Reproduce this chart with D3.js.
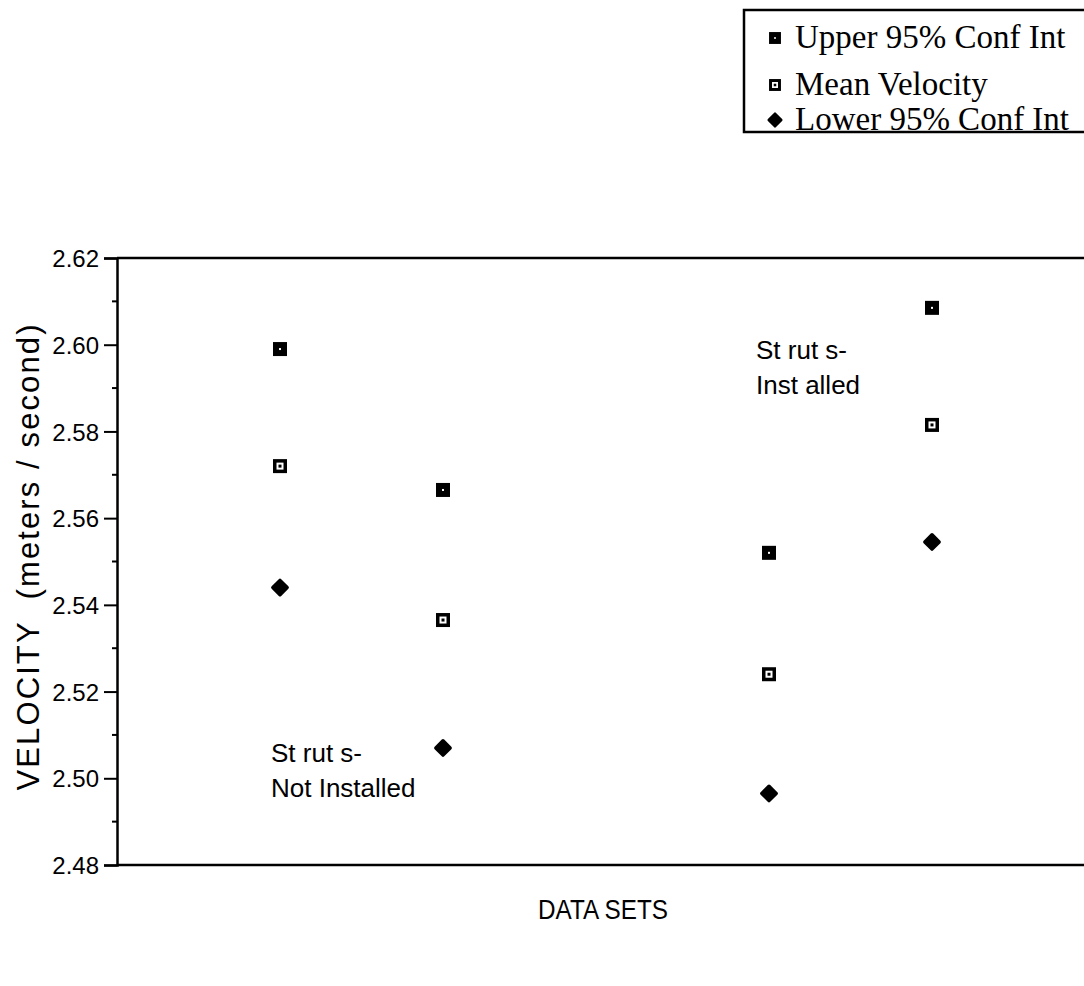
<!DOCTYPE html>
<html>
<head>
<meta charset="utf-8">
<script src="https://cdn.jsdelivr.net/npm/d3@7"></script>
<style>
  body { margin: 0; background: #fff; }
  text { font-family: "Liberation Sans", Arial, sans-serif; fill: #000; }
  .legendText { font-family: "Liberation Serif", "Times New Roman", serif; font-size: 33px; }
</style>
</head>
<body>
<script>
//data
var groups = [1, 2, 4, 5];
var upper = [2.599, 2.5665, 2.552, 2.6085];
var mean = [2.572, 2.5365, 2.524, 2.5815];
var lower = [2.544, 2.507, 2.4965, 2.5545];
var majorTicks = [2.48, 2.50, 2.52, 2.54, 2.56, 2.58, 2.60, 2.62];
var minorTicks = [2.49, 2.51, 2.53, 2.55, 2.57, 2.59, 2.61];
var legendLabels = ["Upper 95% Conf Int", "Mean Velocity", "Lower 95% Conf Int"];
var notes = [
    { lines: ["St rut s-", "Inst alled"], group: 4 },
    { lines: ["St rut s-", "Not Installed"], group: 1 }
];

var W = 1084, H = 986;
var m = [258, 0, 121, 117]; //top right bottom left

var x = d3.scaleLinear()
    .domain([0, 6])
    .range([m[3], 1095]);
var y = d3.scaleLinear()
    .domain([2.48, 2.62])
    .range([H - m[2], m[0]]);

var svg = d3.select("body")
    .append("svg")
    .attr("width", W)
    .attr("height", H);

//frame (right side runs off the page)
svg.append("line")
    .attr("x1", x(0)).attr("x2", W)
    .attr("y1", y(2.62)).attr("y2", y(2.62))
    .attr("stroke", "#000").attr("stroke-width", 2.5);
svg.append("line")
    .attr("x1", x(0)).attr("x2", W)
    .attr("y1", y(2.48)).attr("y2", y(2.48))
    .attr("stroke", "#000").attr("stroke-width", 2.5);

//y axis
var yAxis = d3.axisLeft(y)
    .tickValues(majorTicks)
    .tickSize(13)
    .tickPadding(5)
    .tickFormat(d3.format(".2f"));

var ax = svg.append("g")
    .attr("transform", "translate(" + x(0) + ",0)")
    .call(yAxis);
ax.select(".domain").attr("stroke-width", 2.5);
ax.selectAll(".tick line").attr("stroke-width", 2);
ax.selectAll(".tick text")
    .style("font-family", "'Liberation Sans', Arial, sans-serif")
    .style("font-size", "24px")
    .attr("dy", "0.36em");

svg.append("g").selectAll(".minor")
    .data(minorTicks)
    .enter().append("line")
    .attr("x1", x(0) - 5)
    .attr("x2", x(0))
    .attr("y1", function (d) { return y(d); })
    .attr("y2", function (d) { return y(d); })
    .attr("stroke", "#000")
    .attr("stroke-width", 2);

//axis titles
svg.append("text")
    .attr("transform", "translate(39," + ((y(2.48) + y(2.62)) / 2 - 4) + ") rotate(-90)")
    .attr("text-anchor", "middle")
    .attr("textLength", 466)
    .attr("lengthAdjust", "spacing")
    .style("font-size", "31px")
    .style("white-space", "pre")
    .text("VELOCITY  (meters / second)");

svg.append("text")
    .attr("x", 603)
    .attr("y", 919)
    .attr("text-anchor", "middle")
    .attr("textLength", 130)
    .attr("lengthAdjust", "spacingAndGlyphs")
    .style("font-size", "28px")
    .text("DATA SETS");

//markers
function upperMark(g) {
    g.append("rect").attr("x", -7).attr("y", -7).attr("width", 14).attr("height", 14).attr("fill", "#000");
    g.append("rect").attr("x", -1).attr("y", -1).attr("width", 2).attr("height", 2).attr("fill", "#fff");
}
function meanMark(g) {
    g.append("rect").attr("x", -7).attr("y", -7).attr("width", 14).attr("height", 14).attr("fill", "#000");
    g.append("rect").attr("x", -3.5).attr("y", -3.5).attr("width", 7).attr("height", 7).attr("fill", "#fff");
    g.append("rect").attr("x", -1.5).attr("y", -1.5).attr("width", 3).attr("height", 3).attr("fill", "#000");
}
function lowerMark(g) {
    g.append("path")
        .attr("d", d3.symbol().type(d3.symbolDiamond2).size(130)())
        .attr("fill", "#000")
        .attr("stroke", "#000")
        .attr("stroke-width", 3.5)
        .attr("stroke-linejoin", "round");
}

var series = [
    { values: upper, draw: upperMark },
    { values: mean, draw: meanMark },
    { values: lower, draw: lowerMark }
];

series.forEach(function (s) {
    svg.append("g").selectAll("g")
        .data(groups)
        .enter().append("g")
        .attr("transform", function (d, i) { return "translate(" + x(d) + "," + y(s.values[i]) + ")"; })
        .each(function () { s.draw(d3.select(this)); });
});

//notes
notes.forEach(function (n) {
    var t = svg.append("text")
        .attr("y", n.group == 4 ? 359 : 762)
        .style("font-size", "26px");
    n.lines.forEach(function (l, i) {
        t.append("tspan")
            .attr("x", x(n.group) - (n.group == 4 ? 13 : 9))
            .attr("dy", i == 0 ? 0 : 35)
            .style("white-space", "pre")
            .text(l);
    });
});

//legend
var legend = svg.append("g");
legend.append("rect")
    .attr("x", 744).attr("y", 10)
    .attr("width", 400).attr("height", 122)
    .attr("fill", "none")
    .attr("stroke", "#000")
    .attr("stroke-width", 2.5);

var legendY = [38, 85, 120];
legendLabels.forEach(function (l, i) {
    var g = legend.append("g").attr("transform", "translate(775," + legendY[i] + ") scale(0.85)");
    series[i].draw(g);
    legend.append("text")
        .attr("class", "legendText")
        .attr("x", 795)
        .attr("y", legendY[i] + 10)
        .text(l);
});
</script>
</body>
</html>
